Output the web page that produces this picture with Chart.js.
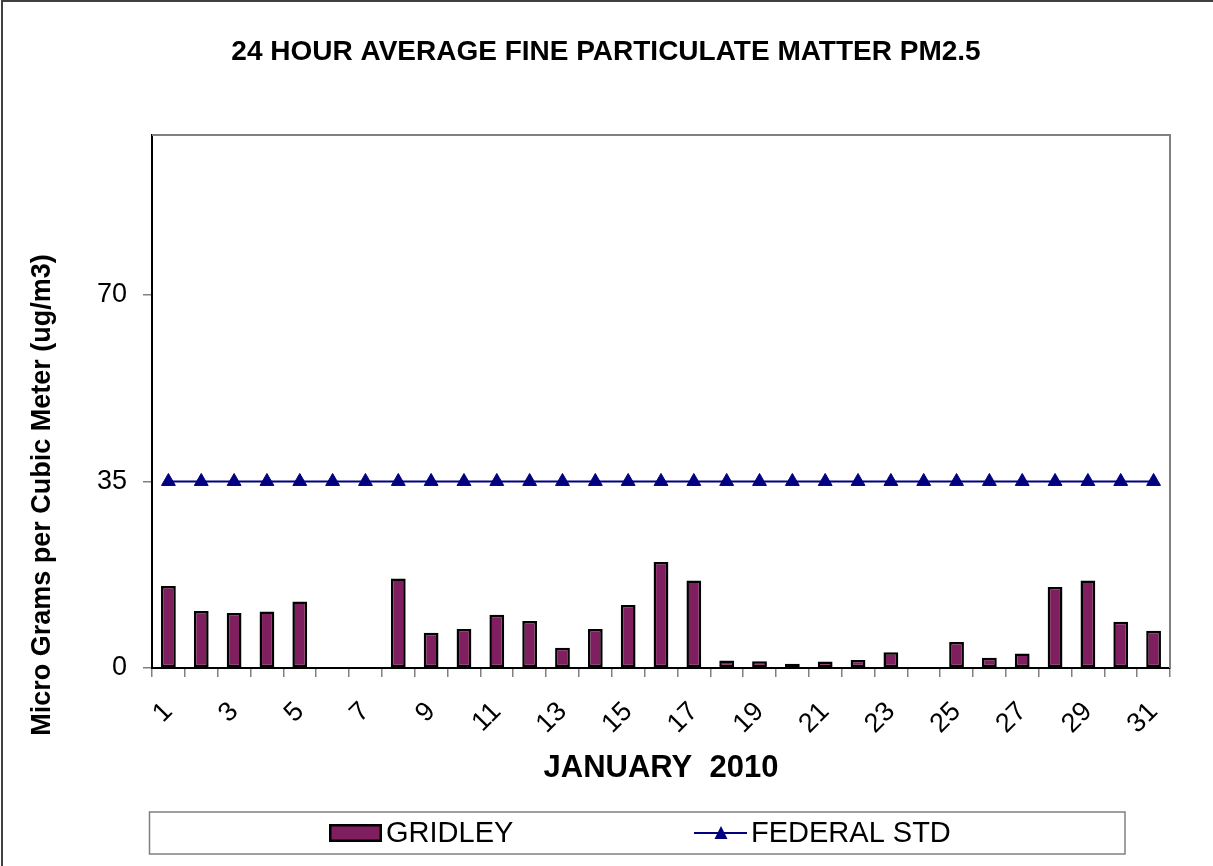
<!DOCTYPE html>
<html>
<head>
<meta charset="utf-8">
<script src="https://cdn.jsdelivr.net/npm/chart.js@4/dist/chart.umd.min.js"></script>
<style>
  html, body { margin: 0; padding: 0; background: #fff; }
  #wrap { position: relative; width: 1213px; height: 866px; }
  canvas { display: block; }
</style>
</head>
<body>
<div id="wrap"><canvas id="c" width="1213" height="866"></canvas></div>
<script>
// ---- data ----
const days = ['1','2','3','4','5','6','7','8','9','10','11','12','13','14','15','16',
              '17','18','19','20','21','22','23','24','25','26','27','28','29','30','31'];
const gridley = [15.4, 10.7, 10.3, 10.6, 12.5, null, null, 16.8, 6.6, 7.3, 10.0, 8.8, 3.8, 7.3, 11.8, 19.9,
                 16.4, 1.4, 1.25, 0.8, 1.2, 1.5, 2.95, null, 4.9, 1.9, 2.7, 15.2, 16.4, 8.7, 7.0];
const federalStd = [35, 35, 35, 35, 35, 35, 35, 35, 35, 35, 35, 35, 35, 35, 35, 35,
                    35, 35, 35, 35, 35, 35, 35, 35, 35, 35, 35, 35, 35, 35, 35];
const yTicks = [0, 35, 70];
const xTickLabels = ['1','','3','','5','','7','','9','','11','','13','','15','',
                     '17','','19','','21','','23','','25','','27','','29','','31'];
const chartTitle = '24 HOUR AVERAGE FINE PARTICULATE MATTER PM2.5';
const xTitle = 'JANUARY  2010';
const yTitle = 'Micro Grams per Cubic Meter (ug/m3)';

const FONT = "'Liberation Sans', Arial, Helvetica, sans-serif";
const BAR_COLOR = '#801F5F';
const LINE_COLOR = '#000080';

Chart.defaults.font.family = FONT;
Chart.defaults.color = '#000';

const framePlugin = {
  id: 'frame',
  beforeDatasetsDraw(chart) {
    const {ctx, chartArea: a} = chart;
    ctx.save();
    ctx.strokeStyle = '#808080';
    ctx.lineWidth = 2;
    ctx.beginPath();
    ctx.moveTo(a.left, a.top);
    ctx.lineTo(a.right, a.top);
    ctx.lineTo(a.right, a.bottom);
    ctx.stroke();
    ctx.restore();
  },
  afterDraw(chart) {
    const {ctx} = chart;
    ctx.save();
    // outer chart border (top & left visible)
    ctx.strokeStyle = '#404040';
    ctx.lineWidth = 2;
    ctx.beginPath();
    ctx.moveTo(2, 866);
    ctx.lineTo(2, 1);
    ctx.lineTo(1213, 1);
    ctx.stroke();

    // chart title
    ctx.fillStyle = '#000';
    ctx.font = 'bold 28px ' + FONT;
    ctx.textAlign = 'center';
    ctx.textBaseline = 'middle';
    ctx.fillText(chartTitle, 606, 52);

    // y axis title
    ctx.font = 'bold 27px ' + FONT;
    ctx.translate(43, 495);
    ctx.rotate(-Math.PI / 2);
    ctx.fillText(yTitle, 0, 0);
    ctx.restore();

    // legend box
    ctx.save();
    ctx.strokeStyle = '#808080';
    ctx.lineWidth = 1.5;
    ctx.strokeRect(149.5, 812, 975.5, 42);
    const ds = chart.data.datasets;
    const bar = ds.find(d => d.type === 'bar');
    const line = ds.find(d => d.type === 'line');
    // bar swatch
    ctx.fillStyle = bar.borderColor;
    ctx.fillRect(329, 824, 53, 18);
    ctx.fillStyle = bar.backgroundColor;
    ctx.fillRect(331.5, 826.5, 48, 13);
    ctx.fillStyle = '#000';
    ctx.font = '29px ' + FONT;
    ctx.textAlign = 'left';
    ctx.textBaseline = 'middle';
    ctx.fillText(bar.label, 386, 834);
    // line swatch
    ctx.strokeStyle = line.borderColor;
    ctx.lineWidth = 2;
    ctx.beginPath();
    ctx.moveTo(694, 833);
    ctx.lineTo(747, 833);
    ctx.stroke();
    ctx.fillStyle = line.pointBackgroundColor;
    ctx.beginPath();
    ctx.moveTo(721, 826);
    ctx.lineTo(727.5, 839);
    ctx.lineTo(714.5, 839);
    ctx.closePath();
    ctx.fill();
    ctx.fillStyle = '#000';
    ctx.fillText(line.label, 751, 834);
    ctx.restore();
  }
};

new Chart(document.getElementById('c'), {
  data: {
    labels: days,
    datasets: [
      {
        type: 'line',
        label: 'FEDERAL STD',
        data: federalStd,
        borderColor: LINE_COLOR,
        backgroundColor: LINE_COLOR,
        pointBackgroundColor: LINE_COLOR,
        pointBorderColor: LINE_COLOR,
        borderWidth: 2,
        pointStyle: 'triangle',
        pointRadius: 8,
        pointBorderWidth: 1,
        tension: 0,
        order: 0
      },
      {
        type: 'bar',
        label: 'GRIDLEY',
        data: gridley,
        backgroundColor: BAR_COLOR,
        borderColor: '#000000',
        borderWidth: 2.5,
        borderSkipped: false,
        barPercentage: 0.9,
        categoryPercentage: 0.5,
        order: 1
      }
    ]
  },
  options: {
    responsive: false,
    animation: false,
    devicePixelRatio: 1,
    layout: { padding: { left: 0, right: 43, top: 135, bottom: 0 } },
    plugins: {
      legend: { display: false },
      tooltip: { enabled: false },
      title: { display: false }
    },
    scales: {
      x: {
        type: 'category',
        offset: true,
        grid: {
          display: true,
          offset: true,
          drawOnChartArea: false,
          drawTicks: true,
          tickLength: 9,
          color: '#808080',
          lineWidth: 1.5
        },
        border: { display: true, color: '#000', width: 2 },
        ticks: {
          autoSkip: false,
          minRotation: 45,
          maxRotation: 45,
          padding: 19,
          color: '#000',
          font: { size: 27, family: FONT },
          callback: (v, i) => xTickLabels[i]
        },
        title: {
          display: true,
          text: xTitle,
          color: '#000',
          font: { size: 31, weight: 'bold', family: FONT },
          padding: { top: 0, bottom: 79 }
        },
        afterFit: (s) => { s.height = 198; }
      },
      y: {
        min: 0,
        max: 100,
        grid: {
          display: true,
          drawOnChartArea: false,
          drawTicks: true,
          tickLength: 9,
          color: '#808080',
          lineWidth: 1.5
        },
        border: { display: true, color: '#000', width: 2 },
        ticks: {
          padding: 16,
          color: '#000',
          font: { size: 27, family: FONT }
        },
        afterBuildTicks: (s) => { s.ticks = yTicks.map(v => ({ value: v })); },
        afterFit: (s) => { s.width = 152; }
      }
    }
  },
  plugins: [framePlugin]
});
</script>
</body>
</html>
